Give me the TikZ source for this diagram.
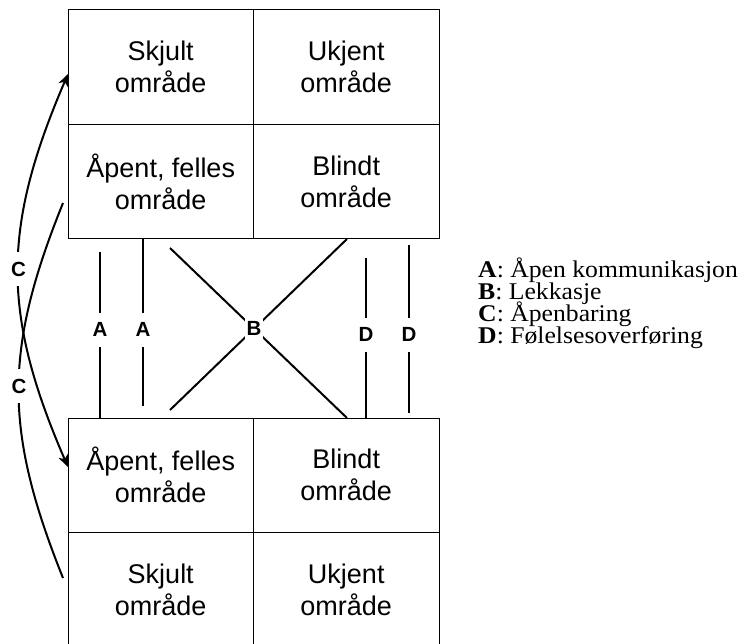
\documentclass[tikz,border=0pt]{standalone}
\usepackage{fontspec}
\setmainfont{Liberation Serif}
\newfontfamily\boxfont{Liberation Sans}
\usetikzlibrary{arrows.meta}
\newcommand\legtext[1]{\scalebox{1.07}[1]{#1}}
\begin{document}
\begin{tikzpicture}[x=1pt,y=-1pt,
  cell/.style={draw=black, line width=1pt, minimum width=185.5pt, minimum height=114.5pt,
    inner sep=0pt, align=center, font=\boxfont\fontsize{27}{32}\selectfont},
  link/.style={line width=2pt},
  tag/.style={fill=white, font=\boxfont\bfseries\fontsize{20.5}{24}\selectfont,
    inner xsep=2pt, inner ysep=0pt, minimum height=34pt},
  bothheads/.style={{Stealth[length=12pt,width=10pt,inset=3.5pt]}-{Stealth[length=12pt,width=10pt,inset=3.5pt]}},
  legline/.style={anchor=base west, inner sep=0pt, text height=15pt, text depth=4pt,
    font=\fontsize{24}{22}\selectfont}
]
\useasboundingbox (0,0) rectangle (744,644);

% upper window
\node[cell] (tS) at (160.75,67.25) {Skjult\\område};
\node[cell] (tU) at (346.25,67.25) {Ukjent\\område};
\node[cell] (tA) at (160.75,181.75) {Åpent, felles\\område};
\node[cell] (tB) at (346.25,181.75) {Blindt\\område};

% lower window
\node[cell] (bA) at (160.75,475.25) {Åpent, felles\\område};
\node[cell] (bB) at (346.25,475.25) {Blindt\\område};
\node[cell] (bS) at (160.75,589.75) {Skjult\\område};
\node[cell] (bU) at (346.25,589.75) {Ukjent\\område};

% connector end points
\coordinate (a1t) at (100,252);  \coordinate (a1b) at (100,418);
\coordinate (a2t) at (143,239);  \coordinate (a2b) at (143,406);
\coordinate (d1t) at (366,258);  \coordinate (d1b) at (366,418);
\coordinate (d2t) at (409,245);  \coordinate (d2b) at (409,413);
\coordinate (b1t) at (170,248);  \coordinate (b1b) at (347,418);
\coordinate (b2t) at (347,239);  \coordinate (b2b) at (170,410);
\coordinate (cxt) at (68,74);    \coordinate (cxb) at (68,467);
\coordinate (cyb) at (63,578);   \coordinate (cyt) at (63,203);

% A: open communication
\draw[link] (a1t) -- (a1b);
\draw[link] (a2t) -- (a2b);
% B: leakage
\draw[link] (b1t) -- (b1b);
\draw[link] (b2t) -- (b2b);
% D: transfer of feelings
\draw[link] (d1t) -- (d1b);
\draw[link] (d2t) -- (d2b);
% C: revelation
\draw[link, bothheads] (cxt) .. controls (1.7,228) and (1.7,314) .. (cxb);
\draw[link] (cyb) .. controls (3.7,430) and (3.7,350) .. (cyt);

% connector labels
\node[tag] (la1) at (100,329.5) {A};
\node[tag] (la2) at (143,329.5) {A};
\node[tag] (lb) at (254,328.5) {B};
\node[tag] (ld1) at (366,334.5) {D};
\node[tag] (ld2) at (409,334.5) {D};
\node[tag] (lc1) at (18.5,269) {C};
\node[tag] (lc2) at (19,386) {C};

% legend
\node[legline] (legA) at (478,277) {\legtext{\textbf{A}: Åpen kommunikasjon}};
\node[legline] (legB) at (478,299) {\legtext{\textbf{B}: Lekkasje}};
\node[legline] (legC) at (478,321) {\legtext{\textbf{C}: Åpenbaring}};
\node[legline] (legD) at (478,343) {\legtext{\textbf{D}: Følelsesoverføring}};
\end{tikzpicture}
\end{document}
